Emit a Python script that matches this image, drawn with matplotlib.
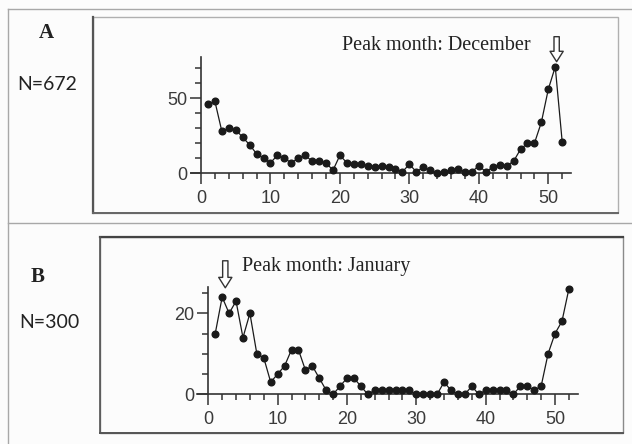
import matplotlib
matplotlib.use("Agg")
import matplotlib.pyplot as plt
from matplotlib.lines import Line2D
from matplotlib.patches import Rectangle

# weekly counts
weeks = list(range(1, 53))
counts_a = [46, 48, 28, 30, 29, 24, 19, 13, 10, 7,
            12, 10, 7, 10, 12, 8, 8, 7, 2, 12,
            7, 6, 6, 5, 4.5, 5, 4, 3, 1, 6,
            1, 4, 2, 0, 1, 2, 3, 1, 1, 5,
            1, 4, 5.5, 5, 8, 16, 20, 20, 34, 56,
            71, 21]
counts_b = [15, 24, 20, 23, 14, 20, 10, 9, 3, 5,
            7, 11, 11, 6, 7, 4, 1, 0, 2, 4,
            4, 2, 0, 1, 1, 1, 1, 1, 1, 0,
            0, 0, 0, 3, 1, 0, 0, 2, 0, 1,
            1, 1, 1, 0, 2, 2, 1, 2, 10, 15,
            18, 26]

panel_labels = ["A", "B"]
n_labels = ["N=672", "N=300"]
peak_texts = ["Peak month: December", "Peak month: January"]
peak_weeks = [51.2, 2.45]

W, H = 632, 444
fig = plt.figure(figsize=(W / 100, H / 100), dpi=100)
fig.patch.set_facecolor("#fcfcfc")


def fx(px):
    return px / W


def fy(py):
    return 1 - py / H


def hline(y, x0, x1, color, lw):
    fig.add_artist(Line2D([fx(x0), fx(x1)], [fy(y), fy(y)], color=color, lw=lw))


def vline(x, y0, y1, color, lw):
    fig.add_artist(Line2D([fx(x), fx(x)], [fy(y0), fy(y1)], color=color, lw=lw))


# outer table lines
hline(9, 8, W, "#a8a8a8", 1.0)
hline(223, 8, W, "#a8a8a8", 1.0)
vline(8, 9, H, "#a8a8a8", 1.0)

# panel boxes
fig.add_artist(Rectangle((fx(93), fy(213)), fx(618) - fx(93), fy(17) - fy(213),
                         fill=False, ec="#b0b0b0", lw=1.0))
vline(93, 17, 213, "#555555", 1.6)
hline(213, 93, 618, "#666666", 1.4)
fig.add_artist(Rectangle((fx(100), fy(433)), fx(623) - fx(100), fy(237) - fy(433),
                         fill=False, ec="#8a8a8a", lw=1.0))
hline(237, 100, 623, "#444444", 1.6)
vline(100, 237, 433, "#555555", 1.2)
hline(433, 100, 623, "#555555", 1.4)

# axes geometry in pixels: (x of zero, px per week, y of zero, px per unit, xlim, ylim)
geom = [
    (201.0, 6.946, 173.3, 1.5, (-1.5, 53.2), (0, 77.5)),
    (208.3, 6.934, 394.3, 4.05, (-1.7, 53.3), (0, 26.6)),
]
ymajor = [[0, 50], [0, 20]]
yminor = [list(range(0, 71, 10)), list(range(0, 26, 5))]
series = [counts_a, counts_b]
text_pos = [(341.7, 45), (242.3, 266.7)]
label_pos = [((46, 33), (47, 85)), ((38, 277), (49, 322))]
arrow_tip = [74.4, 26.3]
arrow_len = [25, 27]

for i in range(2):
    x0, sx, y0, sy, xl, yl = geom[i]
    left = x0 + xl[0] * sx
    right = x0 + xl[1] * sx
    top = y0 - yl[1] * sy
    ax = fig.add_axes([fx(left), fy(y0), fx(right) - fx(left), fy(top) - fy(y0)])
    ax.set_facecolor("none")
    ax.set_xlim(*xl)
    ax.set_ylim(*yl)
    for s in ["top", "right"]:
        ax.spines[s].set_visible(False)
    ax.spines["left"].set_position(("data", 0))
    for s in ["left", "bottom"]:
        ax.spines[s].set_color("#333333")
        ax.spines[s].set_linewidth(1.2)

    ax.plot(weeks, series[i], color="#1a1a1a", lw=0.9, marker="o", ms=4.8,
            mfc="#1a1a1a", mec="#1a1a1a", clip_on=False, zorder=3)

    ax.set_xticks(range(0, 51, 10))
    ax.set_xticks(range(0, 53, 2), minor=True)
    ax.set_yticks(ymajor[i])
    ax.set_yticks(yminor[i], minor=True)
    ax.tick_params(which="major", length=8, width=1.1, color="#333333", pad=2,
                   labelsize=13, labelcolor="#3a3a3a")
    ax.tick_params(axis="x", which="major", pad=4)
    ax.tick_params(which="minor", length=4.5, width=1.1, color="#333333")
    for lab in ax.get_xticklabels() + ax.get_yticklabels():
        lab.set_family("Liberation Sans")

    ax.annotate("", xy=(peak_weeks[i], arrow_tip[i]), xytext=(0, arrow_len[i]),
                textcoords="offset pixels", xycoords="data", annotation_clip=False,
                arrowprops=dict(arrowstyle="simple,head_length=0.75,head_width=0.95,tail_width=0.38",
                                mutation_scale=10, fc="white", ec="#333333", lw=1.0,
                                shrinkA=0, shrinkB=0))

    tx, ty = text_pos[i]
    fig.text(fx(tx), fy(ty), peak_texts[i], family="Liberation Serif", fontsize=14.5,
             color="#222222", ha="left", va="center")

    (ax_, ay_), (nx, ny) = label_pos[i]
    fig.text(fx(ax_), fy(ay_), panel_labels[i], family="Liberation Serif", fontsize=15,
             fontweight="bold", color="#222222", ha="center", va="center")
    fig.text(fx(nx), fy(ny), n_labels[i], family="Lato", fontsize=14,
             color="#222222", ha="center", va="center")

fig.savefig("out.png", dpi=100, facecolor=fig.get_facecolor())
